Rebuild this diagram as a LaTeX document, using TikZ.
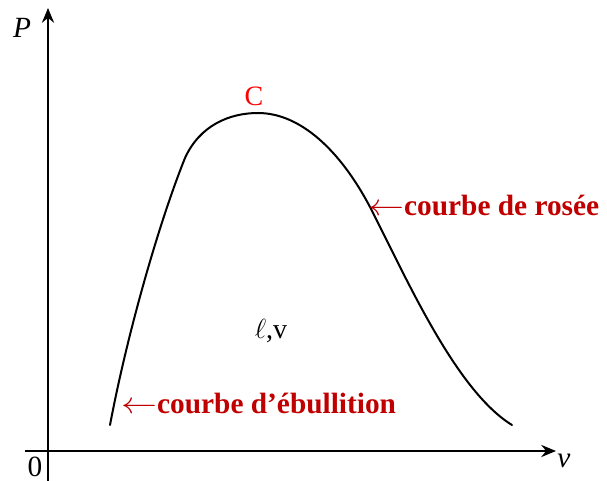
\documentclass[tikz,border=0pt]{standalone}
\usepackage{fontspec}
\setmainfont{Liberation Serif}
\usetikzlibrary{arrows.meta, positioning}
\definecolor{labred}{RGB}{192,0,0}
\newcommand{\larr}{\scalebox{1.3}[1.1]{$\leftarrow$}}

\begin{document}
\begin{tikzpicture}[x=0.75pt, y=-0.75pt,
    axis/.style={line width=1.9pt, -{Stealth[length=11pt, width=9pt]}},
    lab/.style={inner sep=0pt, font=\fontsize{22}{26}\selectfont},
    curvelab/.style={inner sep=0pt, anchor=west, text=labred, font=\fontsize{22}{26}\selectfont\bfseries}]
            \useasboundingbox (0,0) rectangle (607,481);
            % axes
            \coordinate (ybot) at (48,481);
            \coordinate (ytop) at (48,8);
            \coordinate (xleft) at (25,451);
            \coordinate (xright) at (556,451);
            \draw[axis] (ybot) -- (ytop);
            \draw[axis] (xleft) -- (xright);
            \node[lab] (Plab) at (22,28) {\itshape P};
            \node[lab] (vlab) at (564,461) {\itshape v};
            \node[lab] (zero) at (35,467) {0};
            % saturation curve
            \coordinate (s) at (110,425);
            \coordinate (k) at (185,158);
            \coordinate (top) at (258,113);
            \coordinate (m) at (370,207);
            \coordinate (e) at (512,425);
            \draw[line width=1.5pt, line cap=round]
                (s) .. controls (128,330) and (160,220) .. (k)
                    .. controls (200,125) and (230,113) .. (top)
                    .. controls (300,113) and (340,150) .. (m)
                    .. controls (405,275) and (455,390) .. (e);
            \node[lab, text=red, font=\fontsize{21}{24}\selectfont] (C) at (254,96) {C};
            \node[lab, font=\fontsize{21}{25}\selectfont] (lv) at (271,331) {$\ell$,v};
            \node[curvelab] (rosee) at (368,205) {\larr courbe de rosée};
            \node[curvelab] (ebul) at (121,403) {\larr courbe d’ébullition};
        \end{tikzpicture}
\end{document}
